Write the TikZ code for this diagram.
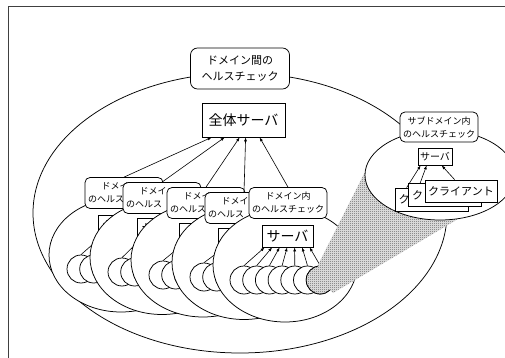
\documentclass[tikz,border=0pt]{standalone}
\usepackage{fontspec}
\setmainfont{Noto Sans CJK JP}
\usetikzlibrary{arrows.meta,patterns.meta,calc}
\tikzdeclarepattern{
  name=halftone,
  type=uncolored,
  bottom left={(0pt,0pt)},
  top right={(2pt,2pt)},
  tile size={(2pt,2pt)},
  code={\fill (0pt,0pt) rectangle (1pt,1pt); \fill (1pt,1pt) rectangle (2pt,2pt);}
}
\newcommand\dlabfull{ドメイン内\\のヘルスチェック}
\newcommand\dlabpart{ドメイ\phantom{ン内}\\のヘルス\phantom{チェック}}
\tikzset{
  lw/.style={line width=0.75pt},
  lab/.style={draw, fill=white, rounded corners=5pt, align=center, inner sep=0pt, lw},
  srv/.style={draw, fill=white, inner sep=0pt, lw},
  dom/.style={draw, fill=white, lw},
  arr/.style={line width=0.6pt, -{Latex[length=4pt,width=3pt]}},
  cl/.style={circle, draw, fill=white, minimum size=28pt, inner sep=0pt, lw},
  shade/.style={preaction={fill=black!5}, pattern=halftone, pattern color=black!85},
  fnine/.style={font=\fontsize{9}{13}\selectfont},
  fbig/.style={font=\fontsize{11}{16}\selectfont},
  fsrv/.style={font=\fontsize{14}{16}\selectfont},
  fcl/.style={font=\fontsize{11}{13}\selectfont},
  fss/.style={font=\fontsize{10}{12}\selectfont},
}
\begin{document}
\begin{tikzpicture}[x=1pt,y=-1pt]
\useasboundingbox (0,0) rectangle (505,358);
% frame
\coordinate (f1) at (8,358);
\coordinate (f2) at (8,7);
\coordinate (f3) at (505,7);
\draw[line width=1pt, black!75] (f1) -- (f2) -- (f3);
% big domain ellipse
\draw[dom] (240,213) ellipse [x radius=207pt, y radius=140pt];
\node[lab, rounded corners=7pt, minimum width=99pt, minimum height=41pt, fbig] (biglab) at (240,68.5) {ドメイン間の\\ヘルスチェック};
\node[srv, minimum width=83pt, minimum height=34pt, fsrv] (gs) at (243.5,120) {全体サーバ};
% domains
\foreach \pk/\pex/\pey/\plx/\ply/\psx/\psy/\pcx/\pcy/\ptxt in {
  1/121/255/124/193/123.5/226/81/269/dlabpart,
  2/162/257.5/162/198/162.5/229/122/272/dlabpart,
  3/203/260/206/203/204.5/234/163/275/dlabpart,
  4/244/262.5/244/208/243.5/239/204/277/dlabpart,
  5/285/265/288/203/287.5/236/244/280/dlabfull}
{
  \draw[dom] (\pex,\pey) ellipse [x radius=72pt, y radius=57pt];
  \foreach \pi in {0,...,6} {
    \pgfmathsetmacro\pxx{\pcx+12.7*\pi}
    \node[cl] (c\pk-\pi) at (\pxx,\pcy) {};
  }
  \node[srv, minimum width=51pt, minimum height=22pt, fsrv] (srv\pk) at (\psx,\psy) {サーバ};
  \foreach \pi in {0,...,6} {
    \pgfmathsetmacro\pax{3+7.5*\pi}
    \draw[arr] (c\pk-\pi.north) -- ($(srv\pk.south west)+(\pax,0)$);
  }
  \node[lab, minimum width=78pt, minimum height=31pt, fnine] (lab\pk) at (\plx,\ply) {\csname\ptxt\endcsname};
}
% arrows to the global server
\foreach \pk/\po in {1/10,2/23,3/38,4/44,5/58}
  \draw[arr] (lab\pk.north) -- ($(gs.south west)+(\po,0)$);
% shaded client and zoom cone
\path[draw, lw, shade] (c5-6.center) circle [radius=14pt];
\coordinate (z1) at (318,265);
\coordinate (z2) at (365,172);
\coordinate (z3) at (440,175);
\coordinate (z4) at (458,219);
\coordinate (z5) at (333,293);
\path[shade] (c5-6.center) -- (z1) -- (z2) -- (z3) -- (z4) -- (z5) -- cycle;
% sub-domain
\draw[dom] (440,175) ellipse [x radius=75pt, y radius=45pt];
\node[lab, minimum width=78pt, minimum height=30pt, fnine] (slab) at (439,127) {サブドメイン内\\のヘルスチェック};
\node[srv, minimum width=34pt, minimum height=17pt, fss] (ss) at (435,156.5) {サーバ};
\node[srv, minimum width=73pt, minimum height=23pt, fcl] (cb) at (431.5,199.5) {ク\phantom{ライアント}};
\node[srv, minimum width=73pt, minimum height=23pt, fcl] (cm) at (445,195) {ク\phantom{ライアント}};
\node[srv, minimum width=72pt, minimum height=22pt, fcl] (cf) at (461,191) {クライアント};
\draw[arr] ($(cb.north west)+(12,0)$) -- ($(ss.south west)+(3,0)$);
\draw[arr] ($(cm.north west)+(12,0)$) -- ($(ss.south west)+(9,0)$);
\draw[arr] ($(cf.north west)+(30,0)$) -- ($(ss.south west)+(24,0)$);
\end{tikzpicture}
\end{document}
